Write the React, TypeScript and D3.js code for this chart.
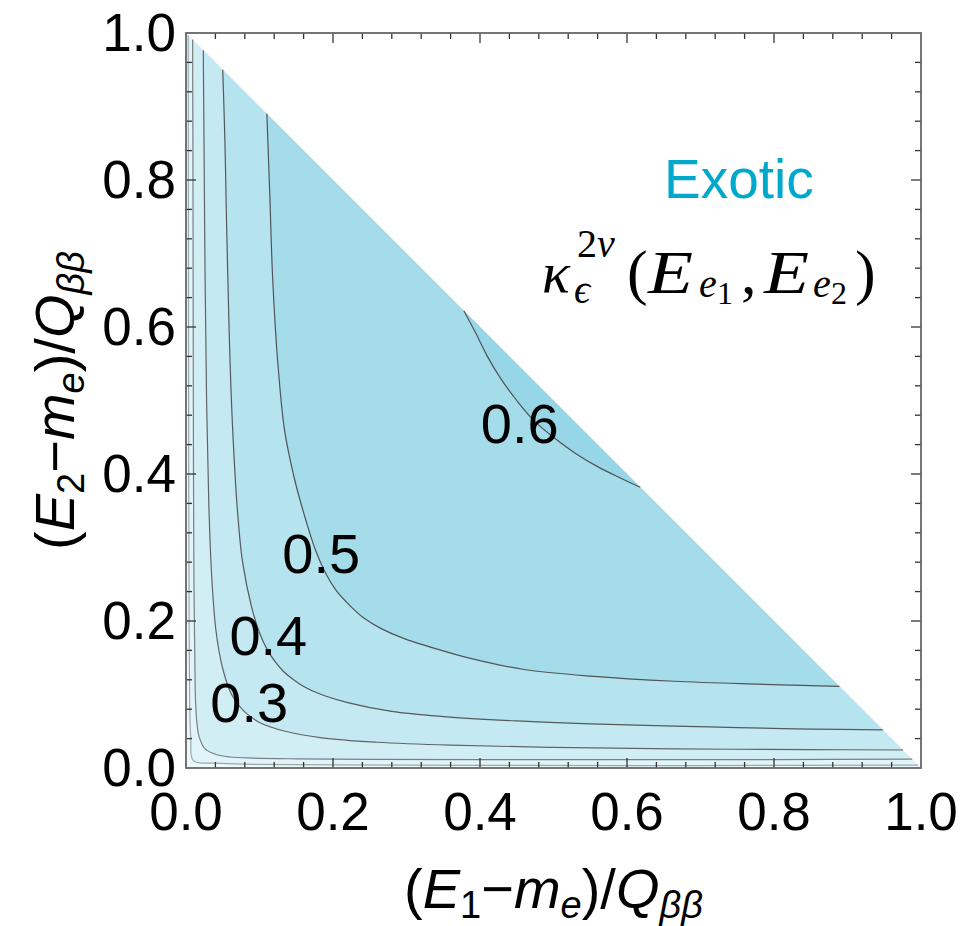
import React from "react";
import * as d3 from "d3";

// ---- data ----
// contour levels of kappa
const levels = [0.1, 0.2, 0.3, 0.4, 0.5, 0.6];

// contour polylines [x, y] in axis units, one per level, running from the diagonal back to the diagonal
const contour01: [number, number][] = [
  [0.003, 0.997], [0.0033, 0.7], [0.0037, 0.4], [0.0042, 0.2], [0.005, 0.09], [0.0065, 0.04],
  [0.01, 0.01], [0.04, 0.0065], [0.09, 0.005], [0.2, 0.0042], [0.4, 0.0037], [0.7, 0.0033], [0.996, 0.004],
];
const contour02: [number, number][] = [
  [0.009, 0.991], [0.0095, 0.8], [0.0098, 0.6], [0.0102, 0.4], [0.0108, 0.25], [0.012, 0.15],
  [0.013, 0.09], [0.015, 0.06], [0.018, 0.042], [0.026, 0.026], [0.042, 0.018], [0.06, 0.015],
  [0.09, 0.0135], [0.15, 0.0125], [0.25, 0.0118], [0.4, 0.0115], [0.6, 0.0115], [0.8, 0.0115], [0.988, 0.012],
];
const contour03: [number, number][] = [
  [0.0235, 0.9765], [0.0245, 0.85], [0.026, 0.664], [0.028, 0.5], [0.031, 0.36], [0.035, 0.26],
  [0.041, 0.185], [0.05, 0.135], [0.062, 0.1], [0.078, 0.078], [0.1, 0.062], [0.135, 0.05],
  [0.185, 0.041], [0.26, 0.035], [0.36, 0.031], [0.5, 0.028], [0.664, 0.026], [0.85, 0.025], [0.9755, 0.0245],
];
const contour04: [number, number][] = [
  [0.05, 0.95], [0.053, 0.85], [0.055, 0.75], [0.057, 0.664], [0.06, 0.55], [0.064, 0.45],
  [0.07, 0.35], [0.077, 0.28], [0.089, 0.22], [0.1, 0.184], [0.111, 0.16], [0.121, 0.145],
  [0.132, 0.132], [0.145, 0.121], [0.16, 0.111], [0.184, 0.1], [0.22, 0.089], [0.28, 0.077],
  [0.35, 0.07], [0.45, 0.064], [0.55, 0.06], [0.664, 0.057], [0.75, 0.055], [0.85, 0.053], [0.948, 0.052],
];
const contour05: [number, number][] = [
  [0.11, 0.89], [0.114, 0.78], [0.118, 0.664], [0.125, 0.55], [0.134, 0.46], [0.146, 0.4],
  [0.155, 0.365], [0.176, 0.297], [0.19, 0.265], [0.204, 0.242], [0.222, 0.222], [0.242, 0.204],
  [0.265, 0.19], [0.297, 0.176], [0.365, 0.155], [0.4, 0.146], [0.46, 0.134], [0.55, 0.125],
  [0.664, 0.118], [0.78, 0.114], [0.889, 0.111],
];
const contour06: [number, number][] = [
  [0.378, 0.622], [0.395, 0.59], [0.41, 0.56], [0.428, 0.53], [0.45, 0.5], [0.473, 0.473],
  [0.5, 0.45], [0.53, 0.428], [0.56, 0.41], [0.59, 0.395], [0.618, 0.382],
];
const contours = [contour01, contour02, contour03, contour04, contour05, contour06];

// labelled contours: text and its centre in axis units
const labelTexts = ["0.3", "0.4", "0.5", "0.6"];
const labelX = [0.086, 0.112, 0.184, 0.454];
const labelY = [0.09, 0.181, 0.293, 0.47];

// axes
const majorTicks = [0, 0.2, 0.4, 0.6, 0.8, 1.0];
const tickLabels = ["0.0", "0.2", "0.4", "0.6", "0.8", "1.0"];
const minorTicks = [0.04, 0.08, 0.12, 0.16, 0.24, 0.28, 0.32, 0.36, 0.44, 0.48, 0.52, 0.56, 0.64, 0.68, 0.72, 0.76, 0.84, 0.88, 0.92, 0.96];

// ---- styles ----
const bandFills = ["#eef9fc", "#e0f4f9", "#d2eef5", "#c4e9f2", "#b5e3ee", "#a5dcea", "#97d6e6"];
const lineColors = ["#9aa", "#7a7f80", "#5f6466", "#55595b", "#505456", "#505456"];
const SANS = "'Liberation Sans', Arial, Helvetica, sans-serif";
const SERIF = "'Liberation Serif', 'Times New Roman', serif";

const W = 980, H = 926;
const L = 186, R = 921, T = 33, B = 768;

export default function App() {
  const x = d3.scaleLinear().domain([0, 1]).range([L, R]);
  const y = d3.scaleLinear().domain([0, 1]).range([B, T]);
  const line = d3
    .line<[number, number]>()
    .x((d) => x(d[0]))
    .y((d) => y(d[1]))
    .curve(d3.curveCatmullRom.alpha(0.5));
  const tri = d3.line<[number, number]>().x((d) => x(d[0])).y((d) => y(d[1]))([
    [0, 0], [0, 1], [1, 0],
  ]) + "Z";

  const tickStroke = "#333";
  const ticks: JSX.Element[] = [];
  const addTicks = (vals: number[], len: number, key: string) => {
    vals.forEach((v, i) => {
      const px = x(v), py = y(v);
      ticks.push(<line key={`${key}b${i}`} x1={px} x2={px} y1={B} y2={B - len} stroke={tickStroke} strokeWidth={1.3} />);
      ticks.push(<line key={`${key}t${i}`} x1={px} x2={px} y1={T} y2={T + len} stroke={tickStroke} strokeWidth={1.3} />);
      ticks.push(<line key={`${key}l${i}`} x1={L} x2={L + len} y1={py} y2={py} stroke={tickStroke} strokeWidth={1.3} />);
      ticks.push(<line key={`${key}r${i}`} x1={R} x2={R - len} y1={py} y2={py} stroke={tickStroke} strokeWidth={1.3} />);
    });
  };
  addTicks(majorTicks.slice(1, -1), 10, "M");
  addTicks(minorTicks, 6, "m");

  return (
    <svg width={W} height={H} style={{ position: "absolute", left: 0, top: 0, background: "#fff" }}>
      <rect x={0} y={0} width={W} height={H} fill="#fff" />
      <path d={tri} fill={bandFills[0]} />
      {contours.map((c, i) => (
        <path key={`f${i}`} d={(line(c) as string) + "Z"} fill={bandFills[i + 1]} />
      ))}
      {contours.map((c, i) => (
        <path key={`c${i}`} d={line(c) as string} fill="none" stroke={lineColors[i]} strokeWidth={1.2} />
      ))}
      {labelTexts.map((t, i) => (
        <text key={`lab${i}`} x={x(labelX[i])} y={y(labelY[i])} dy="0.36em" textAnchor="middle"
          fontFamily={SANS} fontSize={56} fill="#000">{t}</text>
      ))}
      {ticks}
      <rect x={L} y={T} width={R - L} height={B - T} fill="none" stroke="#666" strokeWidth={1.8} />
      {majorTicks.map((v, i) => (
        <text key={`xl${i}`} x={x(v)} y={830} textAnchor="middle" fontFamily={SANS} fontSize={53} fill="#000">{tickLabels[i]}</text>
      ))}
      {majorTicks.map((v, i) => (
        <text key={`yl${i}`} x={176} y={y(v)} dy="0.34em" textAnchor="end" fontFamily={SANS} fontSize={53} fill="#000">{tickLabels[i]}</text>
      ))}
      {/* x title */}
      <text x={(L + R) / 2} y={908} textAnchor="middle" fontFamily={SANS} fontSize={56} fill="#000">
        (<tspan fontStyle="italic">E</tspan>
        <tspan fontSize={38} dy={10}>1</tspan>
        <tspan dy={-10}>−</tspan>
        <tspan fontStyle="italic">m</tspan>
        <tspan fontSize={38} dy={10} fontStyle="italic">e</tspan>
        <tspan dy={-10}>)/</tspan>
        <tspan fontStyle="italic">Q</tspan>
        <tspan fontSize={38} dy={10} fontStyle="italic">ββ</tspan>
      </text>
      {/* y title */}
      <text transform={`translate(74, ${(T + B) / 2}) rotate(-90)`} textAnchor="middle" fontFamily={SANS} fontSize={56} fill="#000">
        (<tspan fontStyle="italic">E</tspan>
        <tspan fontSize={38} dy={10}>2</tspan>
        <tspan dy={-10}>−</tspan>
        <tspan fontStyle="italic">m</tspan>
        <tspan fontSize={38} dy={10} fontStyle="italic">e</tspan>
        <tspan dy={-10}>)/</tspan>
        <tspan fontStyle="italic">Q</tspan>
        <tspan fontSize={38} dy={10} fontStyle="italic">ββ</tspan>
      </text>
      {/* annotations */}
      <text x={664} y={198} fontFamily={SANS} fontSize={55} fill="#00a8cc">Exotic</text>
      <g fontFamily={SERIF} fill="#000">
        <text x={542} y={292} fontSize={58} fontStyle="italic">κ</text>
        <text x={577} y={257} fontSize={40}>2<tspan fontStyle="italic">ν</tspan></text>
        <text x={574} y={303} fontSize={40} fontStyle="italic">ϵ</text>
        <text x={627} y={293} fontSize={62}>(</text>
        <text x={648} y={293} fontSize={62} fontStyle="italic" textLength={45} lengthAdjust="spacingAndGlyphs">E</text>
        <text x={699} y={297} fontSize={40} fontStyle="italic">e</text>
        <text x={717} y={304} fontSize={32}>1</text>
        <text x={741} y={293} fontSize={62}>,</text>
        <text x={764} y={293} fontSize={62} fontStyle="italic" textLength={45} lengthAdjust="spacingAndGlyphs">E</text>
        <text x={813} y={297} fontSize={40} fontStyle="italic">e</text>
        <text x={831} y={304} fontSize={32}>2</text>
        <text x={855} y={293} fontSize={62}>)</text>
      </g>
    </svg>
  );
}
